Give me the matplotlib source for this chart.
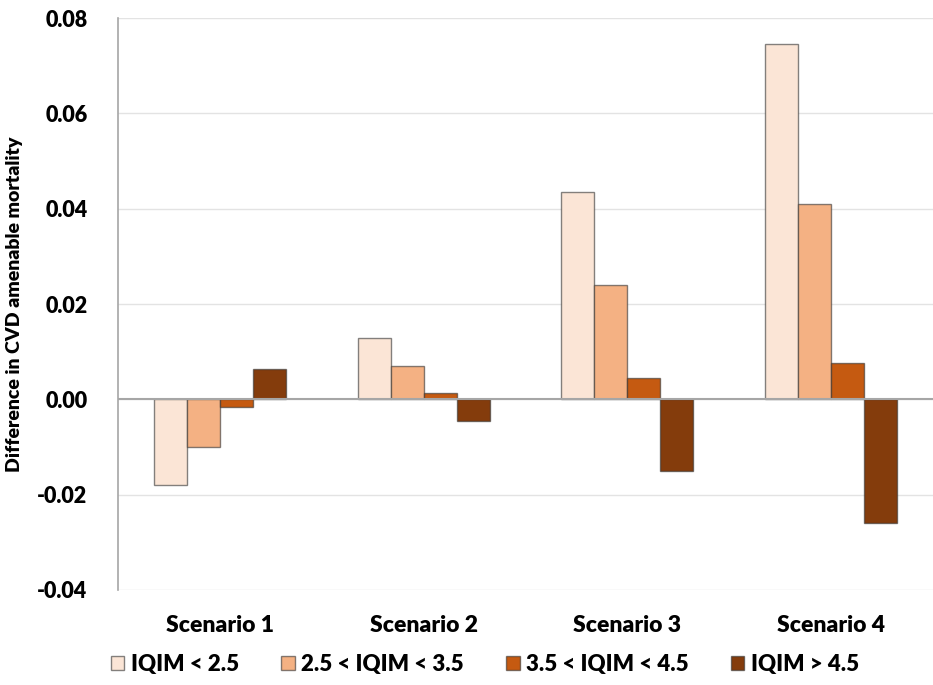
import matplotlib
matplotlib.use("Agg")
import matplotlib.pyplot as plt
import numpy as np

plt.rcParams['font.family'] = ['Lato', 'DejaVu Sans']

categories = ["Scenario 1", "Scenario 2", "Scenario 3", "Scenario 4"]
series_names = ["IQIM < 2.5", "2.5 < IQIM < 3.5", "3.5 < IQIM < 4.5", "IQIM > 4.5"]
iqim_lt_25 = [-0.0180, 0.0128, 0.0436, 0.0745]
iqim_25_35 = [-0.0099, 0.0069, 0.0239, 0.0409]
iqim_35_45 = [-0.0017, 0.0013, 0.0044, 0.0076]
iqim_gt_45 = [0.0063, -0.0046, -0.0151, -0.0260]
series = [iqim_lt_25, iqim_25_35, iqim_35_45, iqim_gt_45]
colors = ["#FBE5D6", "#F4B183", "#C55A11", "#843C0C"]
yticks = [-0.04, -0.02, 0.00, 0.02, 0.04, 0.06, 0.08]

fig = plt.figure(figsize=(9.33, 6.85), dpi=100)
ax = fig.add_axes([0.1265, 0.1387, 0.8735, 0.835])

x = np.arange(len(categories))
w = 0.162
for i, (vals, c, name) in enumerate(zip(series, colors, series_names)):
    ax.bar(x + (i - 1.5) * w, vals, width=w, color=c, edgecolor=(0.2, 0.2, 0.2, 0.6),
           linewidth=1.0, label=name, zorder=3)

ax.set_xlim(-0.5, 3.5)
ax.set_ylim(-0.04, 0.08)
ax.set_yticks(yticks)
ax.set_yticklabels([f"{v:.2f}" for v in yticks], fontsize=15.5, fontweight='heavy')
ax.set_xticks(x)
ax.set_xticklabels(categories, fontsize=16.5, fontweight='heavy')
ax.tick_params(axis='y', length=0, pad=22)
ax.tick_params(axis='x', length=0, pad=18)
ax.yaxis.grid(True, color='#E3E3E3', linewidth=1.0, zorder=0)
ax.axhline(0, color='#A6A6A6', linewidth=1.5, zorder=4)
for s in ['top', 'right', 'bottom']:
    ax.spines[s].set_visible(False)
ax.spines['left'].set_color('#A6A6A6')
ax.spines['left'].set_linewidth(1.2)
ax.set_ylabel("Difference in CVD amenable mortality", fontsize=14, fontweight='heavy', labelpad=10)

leg = fig.legend(loc='lower center', bbox_to_anchor=(0.52, -0.015), ncol=4, frameon=False,
                 prop={'size': 16, 'weight': 'heavy'}, handlelength=0.6, handleheight=0.6,
                 handletextpad=0.3, columnspacing=1.9)

fig.savefig("out.png", dpi=100)
